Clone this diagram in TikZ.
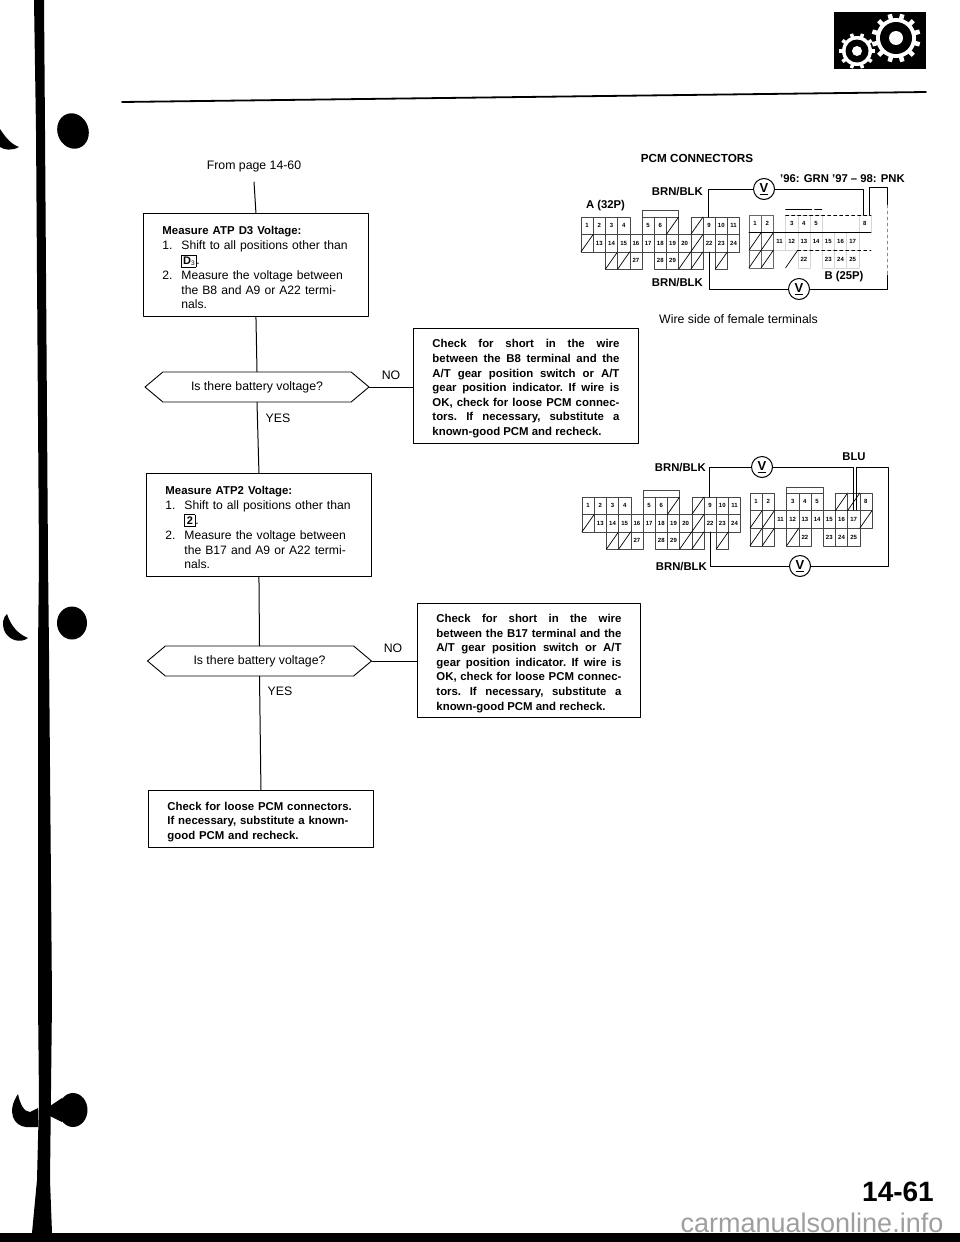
\documentclass[tikz,border=0pt]{standalone}
\usepackage{fontspec}
\setmainfont{Liberation Sans}
\usetikzlibrary{shapes.symbols}
\tikzset{
  stepbox/.style={draw,line width=0.9pt,anchor=north west,align=left,inner ysep=0pt,inner xsep=19pt,font=\fontsize{12.15}{14.8}\selectfont\frenchspacing},
  shortbox/.style={draw,line width=0.9pt,anchor=north west,inner ysep=0pt,inner xsep=19pt,align=justify,font=\fontsize{11.4}{14.6}\selectfont\bfseries\frenchspacing},
  askbox/.style={draw,line width=0.9pt,signal,signal to=west and east,signal pointer angle=80,minimum width=224pt,minimum height=30pt,inner sep=0pt,font=\fontsize{12.3}{14}\selectfont},
  flowline/.style={line width=1pt},
  answer/.style={font=\fontsize{12.3}{14}\selectfont},
  wirelabel/.style={font=\fontsize{11.3}{13}\selectfont\bfseries,inner sep=0pt},
  wire/.style={line width=1pt},
  meter/.style={draw,circle,line width=1pt,fill=white,minimum size=21pt,inner sep=0pt,font=\fontsize{13}{13}\selectfont\bfseries},
  pincell/.style={draw=black!72,line width=0.6pt},
  pinslash/.style={line width=0.7pt},
  pinnum/.style={inner sep=0pt,font=\fontsize{6}{6}\selectfont\bfseries},
  ink/.style={fill=black,draw=none}
}
\newcommand{\itm}[2]{\makebox[19pt][l]{#1}#2}
\newcommand{\cnt}[1]{\hspace*{19pt}#1}
\newcommand{\vbar}{\underline{V}}
\newcommand{\topgap}{\rule{0pt}{14pt}}
\newcommand{\pinsA}[1]{
  \foreach \n/\c/\r in {1/0/0,2/1/0,3/2/0,4/3/0,5/5/0,6/6/0,9/10/0,10/11/0,11/12/0,
    13/1/1,14/2/1,15/3/1,16/4/1,17/5/1,18/6/1,19/7/1,20/8/1,22/10/1,23/11/1,24/12/1,
    27/4/2,28/6/2,29/7/2}{
    \draw[pincell] (\c,\r) rectangle +(1,1);
    \node[pinnum] (#1\n) at (\c+.5,\r+.5) {\n};
  }
  \foreach \c/\r in {7/0,9/0,0/1,9/1,2/2,3/2,8/2,9/2,11/2}{
    \draw[pincell] (\c,\r) rectangle +(1,1);
    \draw[pinslash] (\c,\r+1) -- (\c+1,\r);
  }
  \draw[pincell] (5,0) -- (5,-.38) -- (8,-.38) -- (8,0);
}
\newcommand{\pinsB}[1]{
  \foreach \n/\c/\r in {1/0/0,2/1/0,3/3/0,4/4/0,5/5/0,8/9/0,
    11/2/1,12/3/1,13/4/1,14/5/1,15/6/1,16/7/1,17/8/1,
    22/4/2,23/6/2,24/7/2,25/8/2}{
    \draw[pincell] (\c,\r) rectangle +(1,1);
    \node[pinnum] (#1\n) at (\c+.5,\r+.5) {\n};
  }
}
\begin{document}
\begin{tikzpicture}[x=1pt,y=-1pt,line cap=round,line join=round]
  \useasboundingbox (0,0) rectangle (960,1242);

  % page furniture
  \fill[ink] (34,0) -- (36,130) -- (39,560) -- (38,650) -- (38,1000) -- (39,1100) -- (37,1180) -- (32,1233)
    -- (52,1233) -- (50,1180) -- (52,1000) -- (49,650) -- (48,560) -- (45,130) -- (44,0) -- cycle;
  \fill[ink] (0,1233) rectangle (960,1242);
  \fill[ink,rotate around={20:(73,131)}] (73,131) ellipse [x radius=15.5,y radius=18];
  \fill[ink] (72,623) ellipse [x radius=15,y radius=16.5];
  \fill[ink] (0,129) .. controls (6,138) and (11,144) .. (19,147) .. controls (12,151) and (4,150) .. (0,147) -- cycle;
  \fill[ink] (7,614) .. controls (11,626) and (18,634) .. (28,638) .. controls (20,644) and (8,640) .. (4,630) .. controls (2,624) and (3,617) .. (7,614) -- cycle;
  \fill[ink] (18,1094) .. controls (20,1104) and (24,1112) .. (30,1112) -- (38,1108) -- (38,1127) -- (26,1127) .. controls (14,1126) and (6,1112) .. (18,1094) -- cycle;
  \fill[ink] (73,1110) ellipse [x radius=14.5,y radius=17];
  \fill[ink] (50,1106) -- (62,1098) -- (62,1122) -- (50,1116) -- cycle;
  \draw[line width=1.8pt] (122,102) -- (926,92);
  \fill[ink] (834,12) rectangle (926,69);
  \foreach \a in {0,30,...,330}
    \draw[white,line width=4.5pt,line cap=butt] (896,38) ++(\a+15:18) -- ++(\a+15:6.5);
  \foreach \a in {0,36,...,324}
    \draw[white,line width=3.5pt,line cap=butt] (857,51) ++(\a:13) -- ++(\a:5);
  \fill[white] (896,38) circle [radius=20];
  \fill[black] (896,38) circle [radius=16];
  \fill[white] (896,38) circle [radius=7];
  \fill[white] (857,51) circle [radius=15];
  \fill[black] (857,51) circle [radius=11.5];
  \fill[white] (857,51) circle [radius=5];
  \node[inner sep=0pt,font=\fontsize{28}{28}\selectfont\bfseries] (pageno) at (898,1192) {14-61};
  \node[inner sep=0pt,text=black!38,font=\fontsize{27}{27}\selectfont] (site) at (812,1223) {carmanualsonline.info};

  % flow chart
  \node[answer] (from) at (254,166) {From page 14-60};
  \coordinate (fromend) at (254,182);
  \node[stepbox,text width=187pt,minimum height=103pt] (atpd) at (143,213) {%
    \topgap\textbf{\fontsize{11.4}{14.8}\selectfont Measure ATP D3 Voltage:}\\
    \itm{1.}{Shift to all positions other than}\\
    \cnt{\setlength{\fboxsep}{1.3pt}\fbox{\fontsize{11}{10}\selectfont\textbf{D}\raisebox{-1pt}{\fontsize{6.5}{6}\selectfont 3}}.}\\
    \itm{2.}{Measure the voltage between}\\
    \cnt{the B8 and A9 or A22 termi-}\\
    \cnt{nals.}};
  \node[askbox] (askone) at (257,387) {Is there battery voltage?};
  \node[shortbox,text width=187pt,minimum height=115pt] (shortone) at (413,328) {%
    \topgap Check for short in the wire\linebreak
    between the B8 terminal and the\linebreak
    A/T gear position switch or A/T\linebreak
    gear position indicator. If wire is\linebreak
    OK, check for loose PCM connec-\linebreak
    tors. If necessary, substitute a\linebreak
    known-good PCM and recheck.};
  \node[stepbox,text width=187pt,minimum height=103pt] (atptwo) at (146,473) {%
    \topgap\textbf{\fontsize{11.4}{14.8}\selectfont Measure ATP2 Voltage:}\\
    \itm{1.}{Shift to all positions other than}\\
    \cnt{\setlength{\fboxsep}{2pt}\fbox{\fontsize{11}{10}\selectfont\textbf{2}}.}\\
    \itm{2.}{Measure the voltage between}\\
    \cnt{the B17 and A9 or A22 termi-}\\
    \cnt{nals.}};
  \node[askbox] (asktwo) at (259.5,661) {Is there battery voltage?};
  \node[shortbox,text width=185pt,minimum height=114pt] (shorttwo) at (417,603) {%
    \topgap Check for short in the wire\linebreak
    between the B17 terminal and the\linebreak
    A/T gear position switch or A/T\linebreak
    gear position indicator. If wire is\linebreak
    OK, check for loose PCM connec-\linebreak
    tors. If necessary, substitute a\linebreak
    known-good PCM and recheck.};
  \node[shortbox,align=left,text width=187pt,minimum height=57pt] (loose) at (148,790) {%
    \topgap Check for loose PCM connectors.\\
    If necessary, substitute a known-\\
    good PCM and recheck.};
  \draw[flowline] (fromend) -- (atpd.north);
  \draw[flowline] (atpd.south) -- (askone.north);
  \draw[flowline] (askone.south) -- (atptwo.north);
  \draw[flowline] (askone.east) -- (shortone.west |- askone.east);
  \draw[flowline] (atptwo.south) -- (asktwo.north);
  \draw[flowline] (asktwo.south) -- (loose.north);
  \draw[flowline] (asktwo.east) -- (shorttwo.west |- asktwo.east);
  \node[answer] (noone) at (391,375) {NO};
  \node[answer] (yesone) at (278,418) {YES};
  \node[answer] (notwo) at (393,648) {NO};
  \node[answer] (yestwo) at (280,691) {YES};

  % upper connectors
  \node[inner sep=0pt,font=\fontsize{11.7}{13}\selectfont\bfseries] (title) at (697,158) {PCM CONNECTORS};
  \node[wirelabel] (grnpnk) at (842.5,179) {'96: GRN '97 -- 98: PNK};
  \node[wirelabel] (conna) at (605.5,206) {A (32P)};
  \node[wirelabel] (connb) at (844,277) {B (25P)};
  \node[wirelabel,anchor=east] (brnup) at (703,192) {BRN/BLK};
  \node[wirelabel,anchor=east] (brnlow) at (703,283) {BRN/BLK};
  \node[inner sep=0pt,font=\fontsize{12.3}{14}\selectfont] (wireside) at (738.5,319) {Wire side of female terminals};
  \begin{scope}[shift={(581,217)},x=12.2pt,y=-17.4pt]
    \pinsA{ua}
  \end{scope}
  \begin{scope}[shift={(749,215)},x=12.2pt,y=-17.6pt,pincell/.style={draw=black!16,line width=0.5pt}]
    \pinsB{ub}
    \foreach \c/\r in {0/0,1/0,0/1,1/1,0/2,1/2}
      \draw[draw=black!60] (\c,\r) rectangle +(1,1);
    \foreach \c/\r in {0/1,1/1,0/2,1/2,3/2}
      \draw[pinslash] (\c,\r+1) -- (\c+1,\r);
    \draw[line width=0.8pt] (0,1) -- (10,1);
    \draw[line width=0.7pt,dashed] (4,2) -- (10,2);
    \draw[line width=0.7pt,dashed] (3,0) -- (10,0);
    \draw[line width=0.7pt,dash pattern=on 26pt off 3pt on 7pt off 50pt] (3,-.33) -- (6,-.33);
  \end{scope}
  \node[meter] (vup) at (764,189) {\vbar};
  \node[meter] (vlow) at (799,289) {\vbar};
  \coordinate (ucom) at (708,217);
  \coordinate (ucomtop) at (708,189);
  \coordinate (ulow) at (709,252);
  \coordinate (ulowend) at (709,289);
  \coordinate (ubeight) at (863,215);
  \coordinate (ubtop) at (863,189);
  \coordinate (uback) at (869,215);
  \coordinate (ubacktop) at (869,187);
  \coordinate (uright) at (887,187);
  \coordinate (uskip) at (887,205);
  \coordinate (uskipend) at (887,275);
  \coordinate (ucorner) at (887,289);
  \draw[wire] (ucom) -- (ucomtop) -- (vup);
  \draw[wire] (vup) -- (ubtop) -- (ubeight);
  \draw[wire] (uback) -- (ubacktop) -- (uright) -- (uskip);
  \draw[line width=0.6pt,black!45,dashed] (uskip) -- (uskipend);
  \draw[wire] (uskipend) -- (ucorner) -- (vlow);
  \draw[wire] (ulow) -- (ulowend) -- (vlow);

  % lower connectors
  \node[wirelabel,anchor=east] (brnupb) at (706,468) {BRN/BLK};
  \node[wirelabel,anchor=east] (brnlowb) at (707,567) {BRN/BLK};
  \node[wirelabel] (blue) at (854,457) {BLU};
  \begin{scope}[shift={(582,497)},x=12.2pt,y=-17.4pt]
    \pinsA{la}
  \end{scope}
  \begin{scope}[shift={(750,493)},x=12.2pt,y=-17.6pt]
    \pinsB{lb}
    \foreach \c/\r in {7/0,8/0,0/1,1/1,9/1,0/2,1/2,3/2}{
      \draw[pincell] (\c,\r) rectangle +(1,1);
      \draw[pinslash] (\c,\r+1) -- (\c+1,\r);
    }
    \draw[pincell] (3,0) -- (3,-.33) -- (6,-.33) -- (6,0);
  \end{scope}
  \node[meter] (vupb) at (762,467) {\vbar};
  \node[meter] (vlowb) at (800,566) {\vbar};
  \coordinate (lcom) at (709,497);
  \coordinate (lcomtop) at (709,467);
  \coordinate (llow) at (710,532);
  \coordinate (llowend) at (710,566);
  \coordinate (lbone) at (853,510);
  \coordinate (lbtop) at (853,467);
  \coordinate (lback) at (856,510);
  \coordinate (lbacktop) at (856,467);
  \coordinate (lright) at (888,467);
  \coordinate (lcorner) at (888,566);
  \draw[wire] (lcom) -- (lcomtop) -- (vupb);
  \draw[wire] (vupb) -- (lbtop) -- (lbone);
  \draw[wire] (lback) -- (lbacktop) -- (lright) -- (lcorner) -- (vlowb);
  \draw[wire] (llow) -- (llowend) -- (vlowb);
\end{tikzpicture}
\end{document}
